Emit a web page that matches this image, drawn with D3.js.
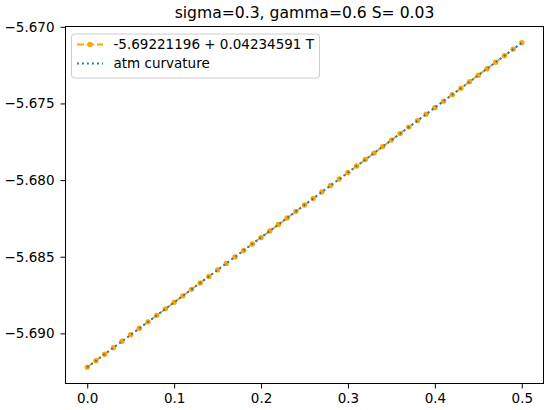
<!DOCTYPE html>
<html>
<head>
<meta charset="utf-8">
<script src="https://cdn.jsdelivr.net/npm/d3@7"></script>
<style>
  html, body { margin: 0; padding: 0; background: #fff; }
  svg { display: block; font-family: "DejaVu Sans", sans-serif; }
</style>
</head>
<body>
<svg id="chart" width="550" height="410"></svg>
<script>
const title = "sigma=0.3, gamma=0.6 S= 0.03";
const fitLabel = "-5.69221196 + 0.04234591 T";
const atmLabel = "atm curvature";

const T = [0.00,0.01,0.02,0.03,0.04,0.05,0.06,0.07,0.08,0.09,
           0.10,0.11,0.12,0.13,0.14,0.15,0.16,0.17,0.18,0.19,
           0.20,0.21,0.22,0.23,0.24,0.25,0.26,0.27,0.28,0.29,
           0.30,0.31,0.32,0.33,0.34,0.35,0.36,0.37,0.38,0.39,
           0.40,0.41,0.42,0.43,0.44,0.45,0.46,0.47,0.48,0.49,0.50];

const fitValues = [-5.692212,-5.691789,-5.691365,-5.690942,-5.690518,-5.690095,-5.689671,-5.689248,-5.688824,-5.688401,
                   -5.687977,-5.687554,-5.687130,-5.686707,-5.686284,-5.685860,-5.685437,-5.685013,-5.684590,-5.684166,
                   -5.683743,-5.683319,-5.682896,-5.682472,-5.682049,-5.681625,-5.681202,-5.680779,-5.680355,-5.679932,
                   -5.679508,-5.679085,-5.678661,-5.678238,-5.677814,-5.677391,-5.676967,-5.676544,-5.676121,-5.675697,
                   -5.675274,-5.674850,-5.674427,-5.674003,-5.673580,-5.673156,-5.672733,-5.672309,-5.671886,-5.671462,
                   -5.671039];

const atmValues = [-5.692212,-5.691789,-5.691365,-5.690942,-5.690518,-5.690095,-5.689671,-5.689248,-5.688824,-5.688401,
                   -5.687977,-5.687554,-5.687130,-5.686707,-5.686284,-5.685860,-5.685437,-5.685013,-5.684590,-5.684166,
                   -5.683743,-5.683319,-5.682896,-5.682472,-5.682049,-5.681625,-5.681202,-5.680779,-5.680355,-5.679932,
                   -5.679508,-5.679085,-5.678661,-5.678238,-5.677814,-5.677391,-5.676967,-5.676544,-5.676121,-5.675697,
                   -5.675274,-5.674850,-5.674427,-5.674003,-5.673580,-5.673156,-5.672733,-5.672309,-5.671886,-5.671462,
                   -5.671039];

const xTicks = [0.0, 0.1, 0.2, 0.3, 0.4, 0.5];
const yTicks = [-5.690, -5.685, -5.680, -5.675, -5.670];

const svg = d3.select("#chart");
const L = 65.5, R = 543.5, Tp = 26.5, B = 383.5;

const xMin = d3.min(T), xMax = d3.max(T);
const xPad = (xMax - xMin) * 0.05;
const yMin = d3.min(fitValues.concat(atmValues)), yMax = d3.max(fitValues.concat(atmValues));
const yPad = (yMax - yMin) * 0.05;

const x = d3.scaleLinear().domain([xMin - xPad, xMax + xPad]).range([L, R]);
const y = d3.scaleLinear().domain([yMin - yPad, yMax + yPad]).range([B, Tp]);

// axes
const xAxis = d3.axisBottom(x).tickValues(xTicks).tickFormat(d3.format(".1f")).tickSize(5).tickPadding(5);
const yAxis = d3.axisLeft(y).tickValues(yTicks).tickFormat(d => d3.format(".3f")(d).replace("-", "\u2212")).tickSize(5).tickPadding(6);

const gx = svg.append("g").attr("transform", `translate(0,${B})`).call(xAxis);
const gy = svg.append("g").attr("transform", `translate(${L},0)`).call(yAxis);
[gx, gy].forEach(g => {
  g.select(".domain").remove();
  g.selectAll("line").attr("stroke", "#000").attr("stroke-width", 1);
  g.selectAll("text").attr("font-family", "DejaVu Sans").attr("font-size", 13.5).attr("fill", "#000");
});

// lines
const line = d3.line().x((d, i) => x(T[i])).y(d => y(d));

svg.append("path").datum(fitValues)
  .attr("d", line).attr("fill", "none")
  .attr("stroke", "orange").attr("stroke-width", 1.9)
  .attr("stroke-dasharray", "7,3");

svg.append("g").selectAll("circle").data(fitValues).join("circle")
  .attr("cx", (d, i) => x(T[i])).attr("cy", d => y(d))
  .attr("r", 2.7).attr("fill", "orange");

svg.append("path").datum(atmValues)
  .attr("d", line).attr("fill", "none")
  .attr("stroke", "#1f77b4").attr("stroke-width", 1.9)
  .attr("stroke-dasharray", "1.9,3.1");

// frame
svg.append("rect").attr("x", L).attr("y", Tp).attr("width", R - L).attr("height", B - Tp)
  .attr("fill", "none").attr("stroke", "#000").attr("stroke-width", 1);

// title
svg.append("text").attr("x", (L + R) / 2).attr("y", 17.5).attr("text-anchor", "middle")
  .attr("font-size", 15.6).attr("fill", "#000").text(title);

// legend
const lg = svg.append("g");
lg.append("rect").attr("x", 71.5).attr("y", 34).attr("width", 248).attr("height", 44)
  .attr("rx", 3).attr("fill", "#fff").attr("fill-opacity", 0.8)
  .attr("stroke", "#ccc").attr("stroke-width", 1);
lg.append("line").attr("x1", 77).attr("x2", 103).attr("y1", 44.5).attr("y2", 44.5)
  .attr("stroke", "orange").attr("stroke-width", 1.9).attr("stroke-dasharray", "7,3");
lg.append("circle").attr("cx", 90).attr("cy", 44.5).attr("r", 2.7).attr("fill", "orange");
lg.append("text").attr("x", 113.5).attr("y", 48.5).attr("font-size", 13.5).attr("fill", "#000").text(fitLabel);
lg.append("line").attr("x1", 77).attr("x2", 103).attr("y1", 63.5).attr("y2", 63.5)
  .attr("stroke", "#1f77b4").attr("stroke-width", 1.9).attr("stroke-dasharray", "1.9,3.1");
lg.append("text").attr("x", 113.5).attr("y", 68).attr("font-size", 13.5).attr("fill", "#000").text(atmLabel);
</script>
</body>
</html>
